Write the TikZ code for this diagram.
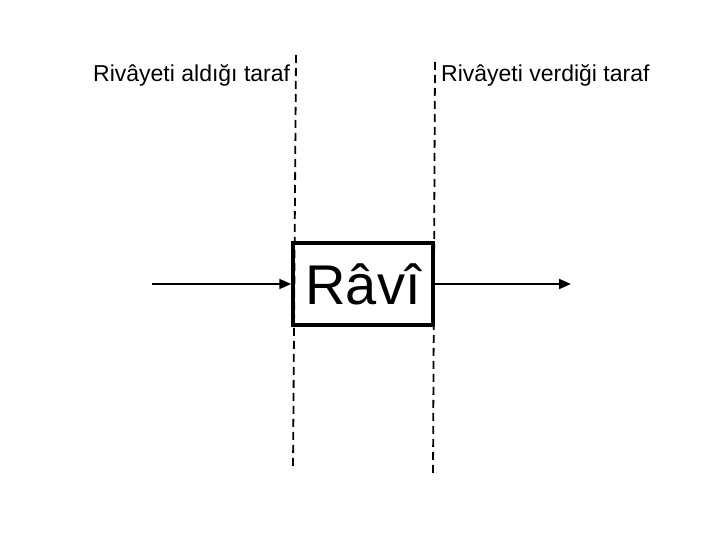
\documentclass[tikz,border=0pt]{standalone}
\usepackage{fontspec}
\setmainfont{Liberation Sans}
\usetikzlibrary{positioning, arrows.meta}

\begin{document}
\begin{tikzpicture}[
    x=1pt, y=-1pt,
    >={Triangle[length=12pt, width=10pt]},
    ravibox/.style={
        draw=black, line width=3.5pt,
        rectangle, minimum width=140pt, minimum height=82pt,
        inner sep=0pt, font=\fontsize{56}{60}\selectfont
    },
    side/.style={font=\fontsize{23}{26}\selectfont, anchor=base west, inner sep=0pt},
    divider/.style={draw=black, line width=1.8pt, dash pattern=on 8pt off 5pt},
    arrow/.style={->, line width=2pt}
]
\useasboundingbox (0,0) rectangle (720,540);

% Nodes
\node[ravibox] (ravi) at (363,284) {Râvî};
\node[side] (alan) at (93,82) {Rivâyeti aldığı taraf};
\node[side] (veren) at (441,82) {Rivâyeti verdiği taraf};

% Ends of the dividers and arrows
\coordinate (l top) at (296,55);
\coordinate (l bot) at (293,470);
\coordinate (r top) at (435,62);
\coordinate (r bot) at (433,475);
\coordinate (in) at (152,284);
\coordinate (out) at (571,284);

% Dashed dividers
\draw[divider] (l top) -- (l bot);
\draw[divider] (r top) -- (r bot);

% Arrows
\draw[arrow] (in) -- (ravi.west);
\draw[arrow] (ravi.east) -- (out);

\end{tikzpicture}
\end{document}
